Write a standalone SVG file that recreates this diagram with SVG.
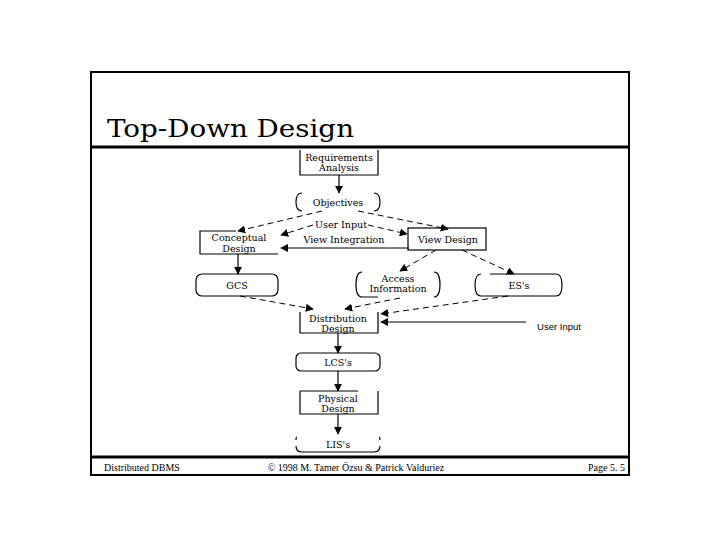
<svg xmlns="http://www.w3.org/2000/svg" width="720" height="540" viewBox="0 0 720 540">
<style>
.t{font-family:"DejaVu Serif","Liberation Serif",serif;font-size:9.5px;fill:#000;text-anchor:middle}
.f{font-family:"Liberation Serif","Times New Roman",serif;font-size:10px;fill:#000}
.b{fill:none;stroke:#000;stroke-width:1.2}
.s{fill:none;stroke:#000;stroke-width:1.2}
.d{fill:none;stroke:#000;stroke-width:1;stroke-dasharray:6,4}
</style>
<defs>
<marker id="a" viewBox="0 0 10 10" refX="9" refY="5" markerWidth="8" markerHeight="8" orient="auto" markerUnits="userSpaceOnUse"><path d="M0,0 L10,5 L0,10 z" fill="#000"/></marker>
</defs>
<rect width="720" height="540" fill="#fff"/>
<g id="frame">
<rect x="91" y="72" width="538" height="403" fill="none" stroke="#000" stroke-width="2"/>
<line x1="91" y1="147" x2="629" y2="147" stroke="#000" stroke-width="3"/>
<line x1="91" y1="457" x2="629" y2="457" stroke="#000" stroke-width="3"/>
<text x="107" y="137" font-family="DejaVu Serif, Liberation Serif, serif" font-size="25" textLength="247" lengthAdjust="spacingAndGlyphs">Top-Down Design</text>
<text class="f" x="104" y="471">Distributed DBMS</text>
<text class="f" x="356" y="471" text-anchor="middle">© 1998 M. Tamer Özsu &amp; Patrick Valduriez</text>
<text class="f" x="625" y="471" text-anchor="end">Page 5. 5</text>
</g>
<g id="connectors">
<line class="s" x1="339" y1="175" x2="339" y2="193" marker-end="url(#a)"/>
<line class="d" x1="322" y1="211" x2="238" y2="231" marker-end="url(#a)"/>
<line class="d" x1="358" y1="211" x2="448" y2="229" marker-end="url(#a)"/>
<line class="d" x1="313" y1="225" x2="281" y2="235" marker-end="url(#a)"/>
<line class="d" x1="368" y1="225" x2="407" y2="234" marker-end="url(#a)"/>
<line class="s" x1="409" y1="248" x2="281" y2="248" marker-end="url(#a)"/>
<line class="s" x1="238" y1="254" x2="238" y2="274" marker-end="url(#a)"/>
<line class="d" x1="436" y1="250" x2="400" y2="271" marker-end="url(#a)"/>
<line class="d" x1="462" y1="250" x2="514" y2="274" marker-end="url(#a)"/>
<line class="d" x1="240" y1="296" x2="313" y2="309" marker-end="url(#a)"/>
<line class="d" x1="400" y1="298" x2="345" y2="309" marker-end="url(#a)"/>
<line class="d" x1="508" y1="296" x2="381" y2="314" marker-end="url(#a)"/>
<line class="s" x1="526" y1="322" x2="381" y2="322" marker-end="url(#a)"/>
<line class="s" x1="338" y1="333" x2="338" y2="353" marker-end="url(#a)"/>
<line class="s" x1="338" y1="371" x2="338" y2="391" marker-end="url(#a)"/>
<line class="s" x1="338" y1="414" x2="338" y2="434" marker-end="url(#a)"/>
<text class="t" x="341" y="228">User Input</text>
<text class="t" x="344" y="243">View Integration</text>
<text class="t" x="559" y="330" style="font-family:'Liberation Sans',sans-serif">User Input</text>
</g>
<g id="req">
<path class="b" d="M300,150 V175 H378 V150"/>
<text class="t" x="339" y="161">Requirements</text>
<text class="t" x="339" y="171">Analysis</text>
</g>
<g id="obj">
<path class="b" d="M302,193 Q296,193 296,202 Q296,211 302,211 M374,193 Q380,193 380,202 Q380,211 374,211"/>
<text class="t" x="338" y="206">Objectives</text>
</g>
<g id="concept">
<path class="b" d="M236,231 H200 V254 H278"/>
<text class="t" x="239" y="241">Conceptual</text>
<text class="t" x="239" y="252">Design</text>
</g>
<g id="view">
<rect class="b" x="408" y="228" width="78" height="22"/>
<text class="t" x="448" y="243">View Design</text>
</g>
<g id="gcs">
<rect class="b" x="196" y="274" width="82" height="22" rx="6"/>
<text class="t" x="237" y="289">GCS</text>
</g>
<g id="access">
<path class="b" d="M362,272 Q356,272 356,284.5 Q356,297 362,297 H378 M434,272 Q440,272 440,284.5 Q440,297 434,297"/>
<text class="t" x="398" y="282">Access</text>
<text class="t" x="398" y="292">Information</text>
</g>
<g id="es">
<path class="b" d="M490,274 H556 Q562,274 562,285 Q562,296 556,296 H490 M481,274 Q475,274 475,285 Q475,296 481,296 H500"/>
<text class="t" x="519" y="289">ES's</text>
</g>
<g id="dist">
<path class="b" d="M300,312 V333 H378 V312"/>
<text class="t" x="338" y="322">Distribution</text>
<text class="t" x="338" y="332">Design</text>
</g>
<g id="lcs">
<rect class="b" x="296" y="353" width="84" height="18" rx="5"/>
<text class="t" x="338" y="366">LCS's</text>
</g>
<g id="phys">
<path class="b" d="M300,391 V414 H378 V391 M300,391 H358"/>
<text class="t" x="338" y="402">Physical</text>
<text class="t" x="338" y="412">Design</text>
</g>
<g id="lis">
<path class="b" d="M297,437 Q296,437 296,440 M380,440 Q380,437 379,437 M296,446 Q296,452 302,452 H374 Q380,452 380,446"/>
<text class="t" x="338" y="448">LIS's</text>
</g>
</svg>
